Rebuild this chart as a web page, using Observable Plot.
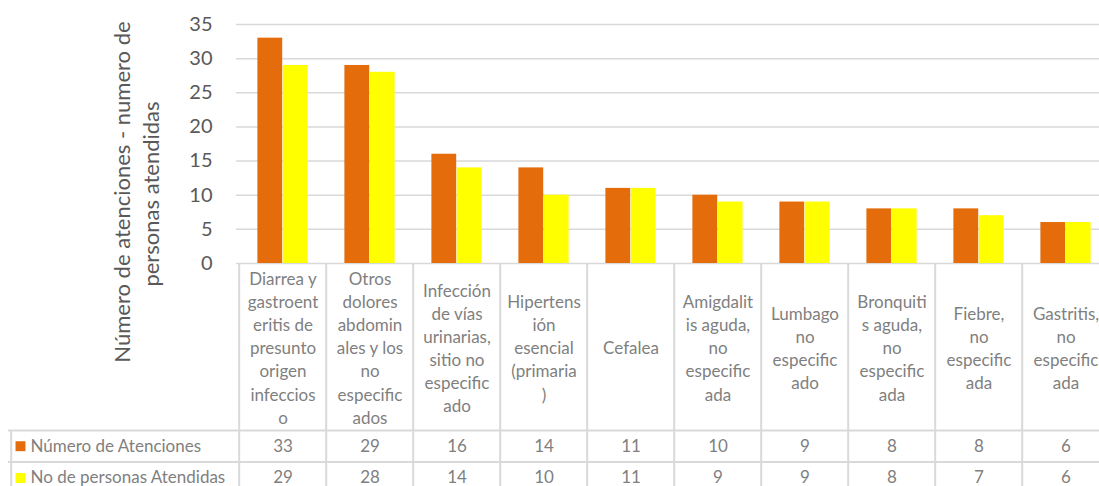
<!DOCTYPE html>
<html><head><meta charset="utf-8">
<script src="https://cdn.jsdelivr.net/npm/d3@7"></script>
<script src="https://cdn.jsdelivr.net/npm/@observablehq/plot@0.6"></script>
<style>html,body{margin:0;padding:0;background:#fff;overflow:hidden;}</style>
</head><body><div id="chart"></div>
<script>
const categories = [
  "Diarrea y gastroenteritis de presunto origen infeccioso",
  "Otros dolores abdominales y los no especificados",
  "Infección de vías urinarias, sitio no especificado",
  "Hipertensión esencial (primaria)",
  "Cefalea",
  "Amigdalitis aguda, no especificada",
  "Lumbago no especificado",
  "Bronquitis aguda, no especificada",
  "Fiebre, no especificada",
  "Gastritis, no especificada"
];
const categoryLabels = [
  "Diarrea y\ngastroent\neritis de\npresunto\norigen\ninfeccios\no",
  "Otros\ndolores\nabdomin\nales y los\nno\nespecific\nados",
  "Infección\nde vías\nurinarias,\nsitio no\nespecific\nado",
  "Hipertens\nión\nesencial\n(primaria\n)",
  "Cefalea",
  "Amigdalit\nis aguda,\nno\nespecific\nada",
  "Lumbago\nno\nespecific\nado",
  "Bronquiti\ns aguda,\nno\nespecific\nada",
  "Fiebre,\nno\nespecific\nada",
  "Gastritis,\nno\nespecific\nada"
];
const seriesNames = ["Número de Atenciones", "No de personas Atendidas"];
const atenciones = [33, 29, 16, 14, 11, 10, 9, 8, 8, 6];
const personas = [29, 28, 14, 10, 11, 9, 9, 8, 7, 6];
const yTicks = [0, 5, 10, 15, 20, 25, 30, 35];
const titleLines = ["Número de atenciones - numero de", "personas atendidas"];
const seriesColors = ["#E46C0A", "#FFFF00"];

const W = 1099, H = 486;
const mLeft = 236, mTop = 24, mBottom = 223;
const xRight = 1112;
const bw = (xRight - mLeft) / categories.length;
const frameH = H - mTop - mBottom;
const gridColor = "#d9d9d9";
const tableText = "#7f7f7f";
const font = "Lato, 'Open Sans', sans-serif";
const tableFont = 17;

const catOf = (d, i) => categories[i];

const plot = Plot.plot({
  width: W, height: H,
  marginLeft: mLeft, marginRight: 0, marginTop: mTop, marginBottom: mBottom,
  style: {fontFamily: font, overflow: "hidden", background: "#fff"},
  x: {type: "band", domain: categories, range: [mLeft, xRight], padding: 0, axis: null},
  y: {domain: [0, 35], axis: null},
  marks: [
    Plot.ruleY(yTicks, {stroke: gridColor, strokeWidth: 1.5}),
    Plot.axisY({ticks: yTicks, tickSize: 0, tickPadding: 24, fontSize: 20, fill: "#595959", label: null}),
    Plot.barY(atenciones, {x: catOf, y: d => d, fill: seriesColors[0], insetLeft: bw * 0.21, insetRight: bw / 2}),
    Plot.barY(personas, {x: catOf, y: d => d, fill: seriesColors[1], insetLeft: bw / 2, insetRight: bw * 0.21}),
    // y title
    Plot.text([titleLines[0]], {text: d => d, frameAnchor: "left", rotate: -90, textAnchor: "middle", lineAnchor: "middle", dx: -114, dy: 48, fontSize: 22, fill: "#595959"}),
    Plot.text([titleLines[1]], {text: d => d, frameAnchor: "left", rotate: -90, textAnchor: "middle", lineAnchor: "middle", dx: -85, dy: 50, fontSize: 22, fill: "#595959"}),
    // table: vertical lines
    Plot.ruleX(categories, {x: d => d, dx: -bw / 2, insetTop: frameH, insetBottom: -mBottom, stroke: gridColor, strokeWidth: 2}),
    Plot.ruleX([categories[0]], {x: d => d, dx: -bw / 2 - 228, insetTop: frameH + 167, insetBottom: -mBottom, stroke: gridColor, strokeWidth: 2}),
    // table: horizontal lines
    Plot.ruleY([0], {dy: 167, insetLeft: -228, stroke: gridColor, strokeWidth: 2}),
    Plot.ruleY([0], {dy: 198.5, insetLeft: -228, stroke: gridColor, strokeWidth: 2}),
    // category labels
    Plot.text(categoryLabels, {x: catOf, text: d => d, frameAnchor: "bottom", dy: 83.5, lineAnchor: "middle", lineHeight: 23.1 / tableFont, fontSize: tableFont, fill: tableText}),
    // values rows
    Plot.text(atenciones, {x: catOf, text: d => String(d), frameAnchor: "bottom", dy: 182.7, lineAnchor: "middle", fontSize: tableFont, fill: tableText}),
    Plot.text(personas, {x: catOf, text: d => String(d), frameAnchor: "bottom", dy: 214.5, lineAnchor: "middle", fontSize: tableFont, fill: tableText}),
    // legend keys
    Plot.dot([seriesNames[0]], {frameAnchor: "bottom-left", dx: -216, dy: 182.7, symbol: "square", r: 5.6, fill: seriesColors[0], stroke: null}),
    Plot.dot([seriesNames[1]], {frameAnchor: "bottom-left", dx: -216, dy: 214.5, symbol: "square", r: 5.6, fill: seriesColors[1], stroke: null}),
    Plot.text([seriesNames[0]], {text: d => d, frameAnchor: "bottom-left", dx: -206, dy: 182.7, textAnchor: "start", lineAnchor: "middle", fontSize: tableFont, fill: tableText}),
    Plot.text([seriesNames[1]], {text: d => d, frameAnchor: "bottom-left", dx: -206, dy: 214.5, textAnchor: "start", lineAnchor: "middle", fontSize: tableFont, fill: tableText})
  ]
});
document.getElementById("chart").appendChild(plot);
</script>
</body></html>
